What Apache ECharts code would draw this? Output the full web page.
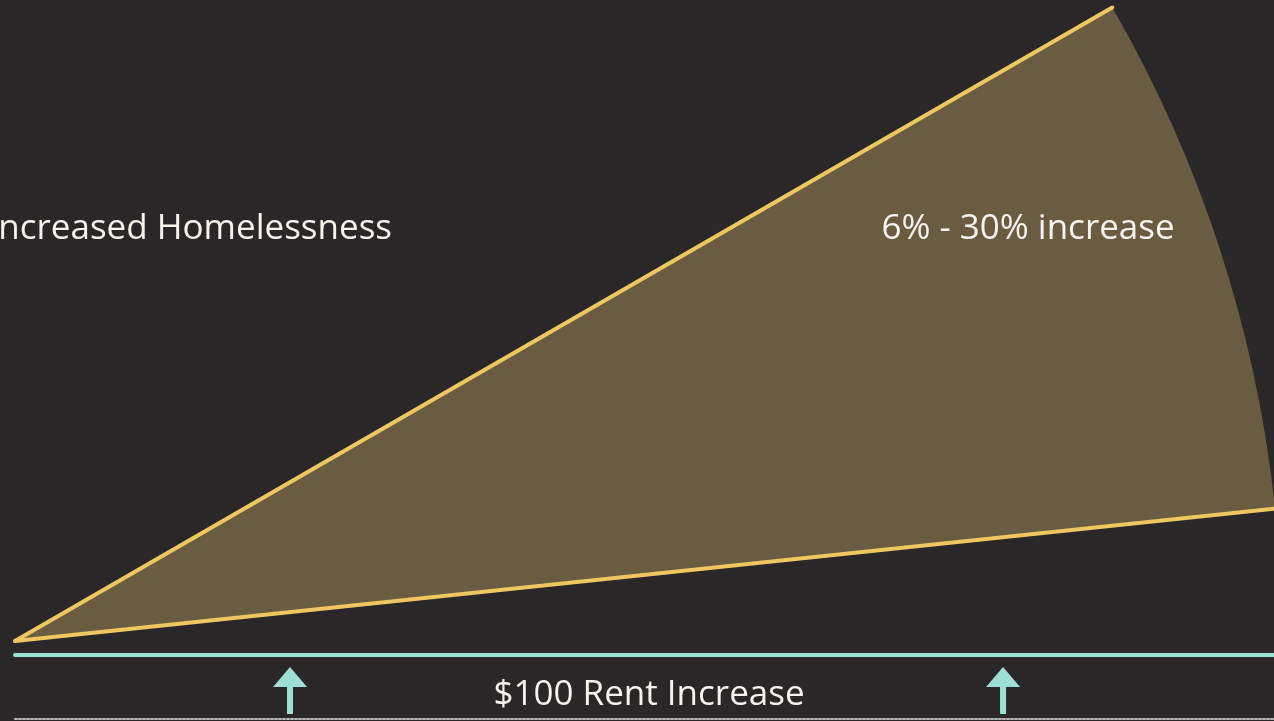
<!DOCTYPE html>
<html>
<head>
<meta charset="utf-8">
<script src="https://cdn.jsdelivr.net/npm/echarts@6/dist/echarts.min.js"></script>
<style>
  html, body { margin: 0; padding: 0; background: #2a2728; }
  #chart { width: 1274px; height: 721px; }
</style>
</head>
<body>
<div id="chart"></div>
<script>
// ---- data ----
var homelessIncreaseRange = [6, 30];      // % increase (low, high) -> wedge angles
var rentMarks = [0, 100];                 // $ rent marks (arrows)
var rentLabel = '$100 Rent Increase';
var wedgeLabel = '6% - 30% increase';
var leftLabel = 'Increased Homelessness';

var BG = '#2a2728', FILL = '#6a5c40', GOLD = '#efc760', CYAN = '#9edfd3', TEXT = '#f5f3ee';
var FONT = '"Open Sans", sans-serif';

var chart = echarts.init(document.getElementById('chart'), null, { renderer: 'canvas' });

// x axis span so that rentMarks land where the arrows sit
var xMin = -38.57, xMax = 138.0;

var option = {
  backgroundColor: BG,
  animation: false,
  polar: { center: [15, 641], radius: 1267 },
  angleAxis: { type: 'value', min: 0, max: 360, startAngle: 0, clockwise: false, show: false },
  radiusAxis: { type: 'value', min: 0, max: 1, show: false },
  grid: { left: 15, right: 0, top: 655, bottom: 2 },
  xAxis: [
    { type: 'value', min: xMin, max: xMax, position: 'top',
      axisLine: { show: true, onZero: false, lineStyle: { color: CYAN, width: 4 } },
      axisTick: { show: false }, axisLabel: { show: false }, splitLine: { show: false } },
    { type: 'value', min: xMin, max: xMax, position: 'bottom',
      axisLine: { show: true, onZero: false, lineStyle: { color: '#bdbdbd', width: 2, type: 'dotted' } },
      axisTick: { show: false }, axisLabel: { show: false }, splitLine: { show: false } }
  ],
  yAxis: { type: 'value', min: 0, max: 1, show: false },
  series: [
    {
      type: 'custom',
      coordinateSystem: 'polar',
      z: 2,
      data: [[1, homelessIncreaseRange[0], homelessIncreaseRange[1]]],
      renderItem: function (params, api) {
        var c = api.coord([0, 0]);
        var pHigh = api.coord([api.value(0), api.value(2)]);
        var pLow = api.coord([api.value(0), api.value(1)]);
        var r = Math.hypot(pHigh[0] - c[0], pHigh[1] - c[1]);
        var aHigh = Math.atan2(pHigh[1] - c[1], pHigh[0] - c[0]);
        var aLow = Math.atan2(pLow[1] - c[1], pLow[0] - c[0]);
        return {
          type: 'group',
          children: [
            { type: 'sector', shape: { cx: c[0], cy: c[1], r0: 0, r: r, startAngle: aHigh, endAngle: aLow, clockwise: true },
              style: { fill: FILL } },
            { type: 'line', shape: { x1: c[0], y1: c[1], x2: pHigh[0], y2: pHigh[1] },
              style: { stroke: GOLD, lineWidth: 4, lineCap: 'round' } },
            { type: 'line', shape: { x1: c[0], y1: c[1], x2: pLow[0], y2: pLow[1] },
              style: { stroke: GOLD, lineWidth: 4, lineCap: 'round' } }
          ]
        };
      }
    },
    {
      type: 'scatter',
      xAxisIndex: 0, yAxisIndex: 0,
      clip: false,
      symbol: 'path://M17,0 L34,20 L20,20 L20,47 L14,47 L14,20 L0,20 Z',
      symbolSize: [34, 47],
      itemStyle: { color: CYAN, opacity: 1 },
      data: rentMarks.map(function (v) { return [v, 0.445]; })
    }
  ],
  graphic: [
    { type: 'text', z: 100, x: 392, y: 229, style: { text: leftLabel, fill: TEXT, font: '35px ' + FONT, textAlign: 'right', textVerticalAlign: 'middle' } },
    { type: 'text', z: 100, x: 1028, y: 229, style: { text: wedgeLabel, fill: TEXT, font: '35px ' + FONT, textAlign: 'center', textVerticalAlign: 'middle' } },
    { type: 'text', z: 100, x: 649, y: 695, style: { text: rentLabel, fill: TEXT, font: '35px ' + FONT, textAlign: 'center', textVerticalAlign: 'middle' } }
  ]
};
chart.setOption(option);
</script>
</body>
</html>
